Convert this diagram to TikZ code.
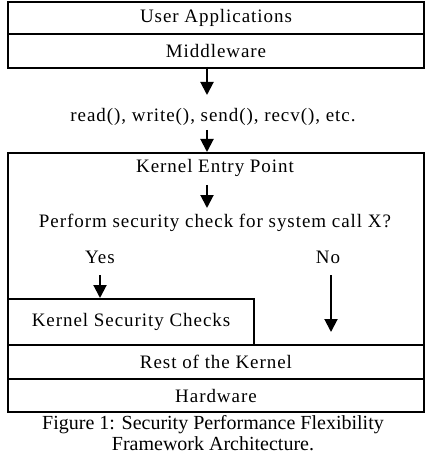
\documentclass[tikz,border=0pt]{standalone}
\usepackage{fontspec}
\setmainfont{Liberation Serif}
\newfontfamily\diagfont[LetterSpace=5]{Liberation Serif}
\usetikzlibrary{arrows.meta}
\begin{document}
\begin{tikzpicture}[x=0.5pt,y=-0.5pt,
  layer/.style={draw,line width=1pt,anchor=north west,minimum width=208pt,inner sep=0pt,
    font=\diagfont\fontsize{9.5}{11}\selectfont},
  lbl/.style={inner sep=0pt,font=\diagfont\fontsize{9.5}{11}\selectfont},
  arr/.style={line width=1pt,-{Triangle[length=6.5pt,width=6.5pt]}}]
\useasboundingbox (0,0) rectangle (426,454);
\node[layer,minimum height=16pt] (user) at (7,1) {User Applications};
\node[layer,minimum height=17pt] (mid) at (7,33) {Middleware};
\node[lbl] (calls) at (213,117) {read(), write(), send(), recv(), etc.};
\node[layer,minimum height=96pt] (kernel) at (7,152) {};
\node[lbl] (entry) at (215,168) {Kernel Entry Point};
\node[lbl] (check) at (215,223) {Perform security check for system call X?};
\node[lbl] (yes) at (100,257) {Yes};
\node[lbl] (no) at (328,257) {No};
\node[layer,minimum width=123pt,minimum height=23pt] (sec) at (7,298) {Kernel Security Checks};
\node[layer,minimum height=17pt] (rest) at (7,344) {Rest of the Kernel};
\node[layer,minimum height=16.5pt] (hw) at (7,378) {Hardware};
\coordinate (c1) at (207,67);
\coordinate (c2) at (207,130);
\coordinate (c3) at (207,185);
\coordinate (c4) at (100,275);
\coordinate (c5) at (331,275);
\draw[arr] (c1) -- ++(0,28);
\draw[arr] (c2) -- (c2 |- kernel.north);
\draw[arr] (c3) -- ++(0,23);
\draw[arr] (c4) -- (c4 |- sec.north);
\draw[arr] (c5) -- ++(0,57);
\node[align=center,font=\fontsize{10}{10.5}\selectfont,inner sep=0pt] (cap) at (213,433)
  {Figure 1: Security Performance Flexibility\\Framework Architecture.};
\end{tikzpicture}
\end{document}
